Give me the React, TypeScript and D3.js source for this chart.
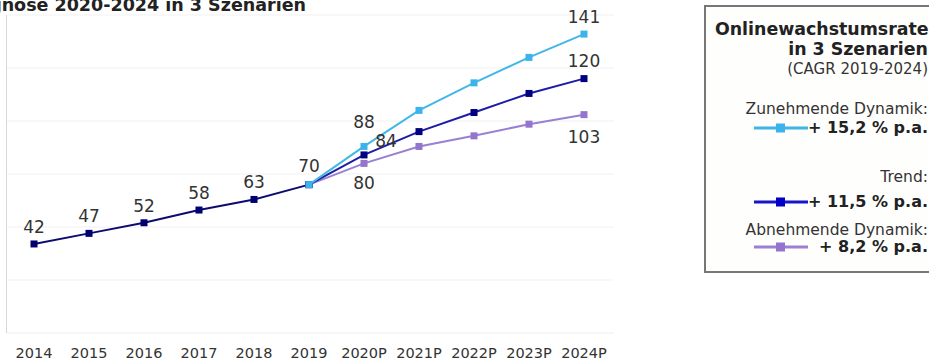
import React from "react";
import * as d3 from "d3";

const categories = ["2014", "2015", "2016", "2017", "2018", "2019", "2020P", "2021P", "2022P", "2023P", "2024P"];
const historicalValues = [42, 47, 52, 58, 63, 70];
const increasingValues = [70, 88, 105, 118, 130, 141];
const trendValues = [70, 84, 95, 104, 113, 120];
const decreasingValues = [70, 80, 88, 93, 98.5, 103];
const yTicks = [0, 25, 50, 75, 100, 125, 150];
const legendRates = ["+ 15,2 % p.a.", "+ 11,5 % p.a.", "+ 8,2 % p.a."];
const legendNames = ["Zunehmende Dynamik:", "Trend:", "Abnehmende Dynamik:"];

const W = 929;
const H = 361;
const FONT = "DejaVu Sans, Verdana, sans-serif";

export default function App() {
  const x = d3.scaleBand<string>().domain(categories).range([6.5, 611.5]);
  const cx = (c: string) => (x(c) as number) + x.bandwidth() / 2;
  const y = d3.scaleLinear().domain([0, 150]).range([333, 15]);

  const histCats = categories.slice(0, 6);
  const projCats = categories.slice(5);

  const line = d3
    .line<[string, number]>()
    .x((d) => cx(d[0]))
    .y((d) => y(d[1]));

  const histPts: [string, number][] = histCats.map((c, i) => [c, historicalValues[i]]);
  const mk = (vals: number[]): [string, number][] => projCats.map((c, i) => [c, vals[i]]);

  const series = [
    { pts: mk(decreasingValues), line: "#9A80D2", marker: "#9474CC" },
    { pts: mk(trendValues), line: "#1C1CA6", marker: "#000080" },
    { pts: mk(increasingValues), line: "#43B7E7", marker: "#3AB4EA" },
  ];

  const ms = 7;

  const histLabels = histPts.map((p, i) => ({ x: cx(p[0]), y: y(p[1]) - (i === 5 ? 13 : 11), t: String(p[1]) }));
  const projLabels = [
    { x: cx("2020P"), y: y(increasingValues[1]) - 18, t: String(increasingValues[1]) },
    { x: cx("2020P") + 22, y: y(trendValues[1]) - 8, t: String(trendValues[1]) },
    { x: cx("2020P"), y: y(decreasingValues[1]) + 26, t: String(decreasingValues[1]) },
    { x: cx("2024P"), y: y(increasingValues[5]) - 11, t: String(increasingValues[5]) },
    { x: cx("2024P"), y: y(trendValues[5]) - 12, t: String(trendValues[5]) },
    { x: cx("2024P"), y: y(decreasingValues[5]) + 28, t: String(decreasingValues[5]) },
  ];

  const legendColors = [
    { line: "#3DB5E8", marker: "#3AB4EA" },
    { line: "#1515CC", marker: "#0000C8" },
    { line: "#9B80D3", marker: "#9474CC" },
  ];
  const legendRows = [
    { nameY: 114, lineY: 128, rateY: 133 },
    { nameY: 182, lineY: 202, rateY: 207 },
    { nameY: 235, lineY: 247, rateY: 252 },
  ];

  return (
    <svg
      width={W}
      height={H}
      style={{ position: "absolute", left: 0, top: 0, background: "#fff" }}
      fontFamily={FONT}
    >
      <rect x={0} y={0} width={W} height={H} fill="#fff" />
      <text x={306} y={10.5} textAnchor="end" fontSize={17.5} fontWeight="bold" fill="#222">
        Prognose 2020-2024 in 3 Szenarien
      </text>

      {yTicks.slice(1).map((t) => (
        <line key={t} x1={6.5} x2={614} y1={y(t)} y2={y(t)} stroke="#f1f1f1" strokeWidth={1} />
      ))}
      <line x1={6.5} x2={614} y1={y(0)} y2={y(0)} stroke="#eeeeee" strokeWidth={1} />
      <line x1={6.5} x2={6.5} y1={y(150)} y2={y(0)} stroke="#d8d8d8" strokeWidth={1} />

      {categories.map((c) => (
        <text key={c} x={cx(c)} y={358} textAnchor="middle" fontSize={14.5} fill="#333">
          {c}
        </text>
      ))}

      <path d={line(histPts) as string} fill="none" stroke="#0C0C6E" strokeWidth={2} />
      {histPts.map((p) => (
        <rect key={p[0]} x={cx(p[0]) - ms / 2} y={y(p[1]) - ms / 2} width={ms} height={ms} fill="#000070" />
      ))}

      {series.map((s, si) => (
        <g key={si}>
          <path d={line(s.pts) as string} fill="none" stroke={s.line} strokeWidth={2} />
          {s.pts.map((p) => (
            <rect key={p[0]} x={cx(p[0]) - ms / 2} y={y(p[1]) - ms / 2} width={ms} height={ms} fill={s.marker} />
          ))}
        </g>
      ))}

      {[...histLabels, ...projLabels].map((l, i) => (
        <text key={i} x={l.x} y={l.y} textAnchor="middle" fontSize={17} fill="#333">
          {l.t}
        </text>
      ))}

      <rect x={705} y={6} width={240} height={266} fill="#fefefd" stroke="#777" strokeWidth={2} />
      <text x={941} y={35} textAnchor="end" fontSize={17.4} fontWeight="bold" fill="#222">
        Onlinewachstumsraten
      </text>
      <text x={928} y={55} textAnchor="end" fontSize={17.4} fontWeight="bold" fill="#222">
        in 3 Szenarien
      </text>
      <text x={928} y={74} textAnchor="end" fontSize={15} fill="#333">
        (CAGR 2019-2024)
      </text>
      {legendRows.map((r, i) => (
        <g key={i}>
          <text x={928} y={r.nameY} textAnchor="end" fontSize={15.5} fill="#333">
            {legendNames[i]}
          </text>
          <line x1={754} x2={808} y1={r.lineY} y2={r.lineY} stroke={legendColors[i].line} strokeWidth={3} />
          <rect x={776} y={r.lineY - 4.5} width={9} height={9} fill={legendColors[i].marker} />
          <text x={928} y={r.rateY} textAnchor="end" fontSize={16} fontWeight="bold" fill="#222">
            {legendRates[i]}
          </text>
        </g>
      ))}
    </svg>
  );
}
